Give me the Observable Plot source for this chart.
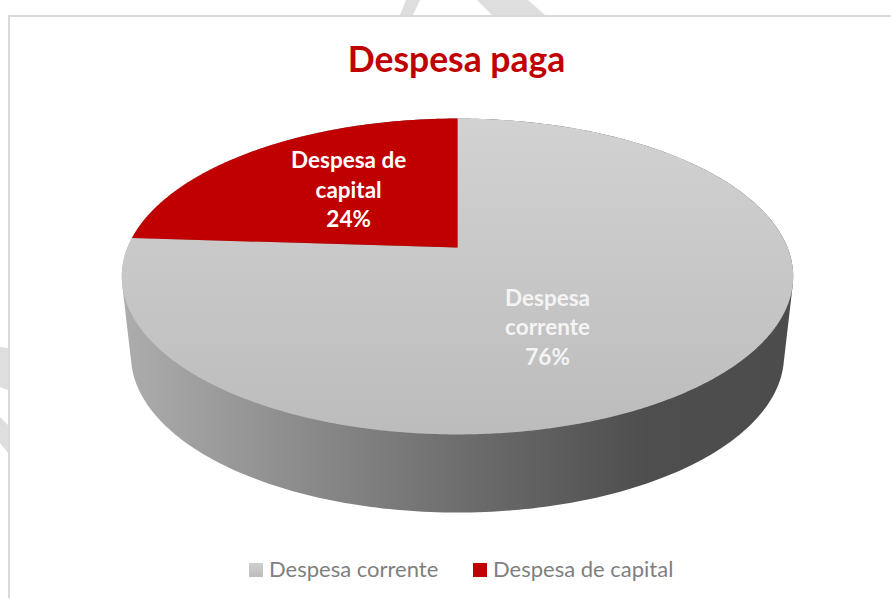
<!DOCTYPE html>
<html lang="pt">
<head>
<meta charset="utf-8">
<script src="https://cdn.jsdelivr.net/npm/d3@7"></script>
<script src="https://cdn.jsdelivr.net/npm/@observablehq/plot@0.6"></script>
<style>
  html, body { margin: 0; padding: 0; background: #fff; }
  #page { position: relative; width: 891px; height: 599px; overflow: hidden; font-family: Lato, "Open Sans", sans-serif; }
  .mark { position: absolute; background: #dedede; }
  #frameTop { position: absolute; left: 8px; right: 0; top: 15px; height: 2px; background: #d9d9d9; }
  #frameLeft { position: absolute; left: 8px; top: 15px; width: 2px; bottom: 1px; background: #d9d9d9; }
  #title { position: relative; height: 100px; box-sizing: border-box; padding-top: 37px; text-align: center; padding-left: 22px;
           color: #c00000; font-size: 35.5px; line-height: 44px; font-weight: 700; }
  #chart { position: relative; height: 440px; }
  #chart svg { display: block; background: transparent; }
  #legend { position: relative; height: 59px; color: #7f7f7f; font-size: 22px; line-height: 28px; }
  .item { position: absolute; top: 15px; white-space: nowrap; }
  .swatch { position: absolute; top: 8px; left: -20px; width: 14px; height: 14px; }
</style>
</head>
<body>
<div id="page">
  <div class="mark" style="left:0;top:0;width:891px;height:15px;clip-path:polygon(400px 15px,406px 0,420px 0,413px 15px)"></div>
  <div class="mark" style="left:0;top:0;width:891px;height:15px;clip-path:polygon(477px 0,492px 15px,545px 15px,528px 0)"></div>
  <div class="mark" style="left:0;top:340px;width:8px;height:120px;clip-path:polygon(0 7px,8px 8px,8px 50px,0 47px)"></div>
  <div class="mark" style="left:0;top:340px;width:8px;height:120px;clip-path:polygon(0 77px,8px 85px,8px 113px,0 103px)"></div>
  <div id="frameTop"></div>
  <div id="frameLeft"></div>
  <div id="title"></div>
  <div id="chart"></div>
  <div id="legend"></div>
</div>
<script>
const chartTitle = "Despesa paga";
const categories = ["Despesa corrente", "Despesa de capital"];
const shares = [76, 24];
const sliceLabels = ["Despesa\ncorrente\n76%", "Despesa de\ncapital\n24%"];
const sliceFills = ["url(#topGrey)", "#c00000"];
const legendFills = ["linear-gradient(#d0d0d0,#bcbcbc)", "#c00000"];

// Perspective view of the disc: the plane of the top and of the bottom face.
const W = 891, H = 440, TOP = 100;
const cam = 0.1835;
const topFace = {cx: 457, a: 330, b: 107.3, d: 247};
const bottomFace = {cx: 457, a: 321, b: 91.9, d: 326.2};
const project = (f, angle, r = 1) => {
  const u = r * Math.sin(angle), v = -r * Math.cos(angle), w = 1 - cam * v;
  return {x: f.cx + f.a * u / w, y: (f.b * v + f.d) / w};
};
const turn = d3.range(0, 360).map((deg) => deg * Math.PI / 180);
const rim = (f) => turn.map((t) => project(f, t));
const hull = d3.polygonHull([...rim(topFace), ...rim(bottomFace)].map((p) => [p.x, p.y]))
  .map(([x, y]) => ({x, y}));

const arcs = d3.pie().sort(null).value((d) => d)(shares);
const slicePath = (arc) => {
  const n = Math.ceil((arc.endAngle - arc.startAngle) * 120);
  const pts = d3.range(n + 1).map((i) =>
    project(topFace, arc.startAngle + (arc.endAngle - arc.startAngle) * i / n));
  return [project(topFace, 0, 0), ...pts, project(topFace, 0, 0)];
};
const labelAt = (i) => {
  const p = project(topFace, (arcs[i].startAngle + arcs[i].endAngle) / 2, 0.5);
  return [{...p, text: sliceLabels[i]}];
};

const gradients = () => {
  const defs = d3.create("svg:defs");
  const add = (id, x1, y1, x2, y2, stops) => {
    const g = defs.append("linearGradient").attr("id", id).attr("gradientUnits", "userSpaceOnUse")
      .attr("x1", x1).attr("y1", y1).attr("x2", x2).attr("y2", y2);
    for (const [o, c] of stops) g.append("stop").attr("offset", o).attr("stop-color", c);
  };
  add("topGrey", 0, 18, 0, 334, [[0, "#d2d2d2"], [1, "#bcbcbc"]]);
  add("sideGrey", 121, 0, 793, 0, [[0, "#adadad"], [0.5, "#6e6e6e"], [0.78, "#4e4e4e"], [1, "#4c4c4c"]]);
  return defs.node();
};

document.getElementById("title").textContent = chartTitle;

const legend = document.getElementById("legend");
const legendLeft = [269, 493];
categories.forEach((name, i) => {
  const item = document.createElement("div");
  item.className = "item";
  item.style.left = legendLeft[i] + "px";
  item.textContent = name;
  const sw = document.createElement("span");
  sw.className = "swatch";
  sw.style.background = legendFills[i];
  item.appendChild(sw);
  legend.appendChild(item);
});

const plot = Plot.plot({
  width: W, height: H, margin: 0,
  x: {domain: [0, W], range: [0, W], axis: null},
  y: {domain: [TOP, TOP + H], range: [0, H], axis: null},
  style: {background: "transparent"},
  marks: [
    gradients,
    Plot.line(hull.concat(hull[0]), {x: "x", y: "y", fill: "url(#sideGrey)", stroke: "none"}),
    ...arcs.map((arc, i) => Plot.line(slicePath(arc), {x: "x", y: "y", fill: sliceFills[i], stroke: "none"})),
    Plot.text(labelAt(0), {x: "x", y: "y", text: "text", dx: -31, dy: 19, fill: "#f4f4f4",
      fontSize: 22.5, fontWeight: 700, fontFamily: "Lato, 'Open Sans', sans-serif", lineHeight: 1.3}),
    Plot.text(labelAt(1), {x: "x", y: "y", text: "text", dx: -3, dy: -7, fill: "#ffffff",
      fontSize: 22.5, fontWeight: 700, fontFamily: "Lato, 'Open Sans', sans-serif", lineHeight: 1.3})
  ]
});
document.getElementById("chart").appendChild(plot);
</script>
</body>
</html>
